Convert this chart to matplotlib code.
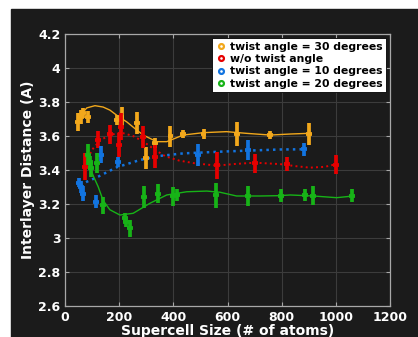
"""Interlayer distance vs supercell size, dark MATLAB-style figure."""

import matplotlib
matplotlib.use("Agg")
import matplotlib.pyplot as plt
from matplotlib.lines import Line2D
from matplotlib.patches import Rectangle

# ---- data ----
labels = ["twist angle = 30 degrees", "w/o twist angle",
          "twist angle = 10 degrees", "twist angle = 20 degrees"]
colors = ["#f2a81c", "#e60000", "#1274e0", "#17b317"]

x30 = [49, 58, 66, 85, 190, 208, 266, 298, 333, 389, 436, 511, 636, 756, 899]
y30 = [3.68, 3.713, 3.735, 3.71, 3.694, 3.711, 3.678, 3.47, 3.56, 3.597,
       3.611, 3.611, 3.609, 3.607, 3.611]
e30 = [0.054, 0.04, 0.03, 0.035, 0.03, 0.057, 0.064, 0.067, 0.03, 0.06,
       0.025, 0.03, 0.07, 0.023, 0.066]

x0 = [73, 122, 165, 197, 205, 286, 331, 562, 701, 818, 999]
y0 = [3.418, 3.578, 3.61, 3.546, 3.654, 3.592, 3.478, 3.428, 3.438, 3.434, 3.43]
e0 = [0.08, 0.05, 0.056, 0.07, 0.08, 0.064, 0.07, 0.08, 0.055, 0.04, 0.057]

x10 = [50, 58, 67, 113, 134, 196, 489, 676, 882]
y10 = [3.325, 3.30, 3.258, 3.213, 3.49, 3.444, 3.487, 3.517, 3.52]
e10 = [0.025, 0.035, 0.044, 0.04, 0.05, 0.03, 0.064, 0.06, 0.04]

x20 = [85, 91, 97, 118, 140, 220, 226, 239, 291, 342, 399, 414, 557, 676,
       797, 886, 917, 1061]
y20 = [3.49, 3.44, 3.41, 3.44, 3.19, 3.115, 3.095, 3.055, 3.24, 3.26, 3.245,
       3.252, 3.25, 3.245, 3.248, 3.25, 3.248, 3.248]
e20 = [0.064, 0.04, 0.05, 0.06, 0.052, 0.03, 0.03, 0.05, 0.064, 0.055, 0.056,
       0.035, 0.074, 0.06, 0.04, 0.035, 0.058, 0.04]

# smooth fit curves (knots)
cx30 = [60, 80, 110, 140, 165, 200, 227, 260, 288, 338, 375, 436, 510, 596,
        670, 757, 831, 898]
cy30 = [3.73, 3.765, 3.778, 3.77, 3.752, 3.71, 3.683, 3.64, 3.605, 3.566,
        3.566, 3.605, 3.619, 3.625, 3.615, 3.605, 3.611, 3.615]

cx0 = [75, 100, 130, 165, 205, 250, 290, 330, 370, 420, 473, 559, 630, 701,
       793, 850, 904, 960, 997]
cy0 = [3.44, 3.52, 3.575, 3.605, 3.62, 3.60, 3.565, 3.52, 3.48, 3.455, 3.44,
       3.425, 3.435, 3.442, 3.434, 3.422, 3.413, 3.418, 3.432]

cx10 = [55, 80, 122, 190, 276, 350, 436, 572, 670, 793, 880]
cy10 = [3.31, 3.33, 3.36, 3.415, 3.458, 3.482, 3.497, 3.507, 3.513, 3.52,
        3.521]

cx20 = [90, 105, 122, 140, 165, 202, 251, 313, 375, 449, 523, 572, 633, 720,
        793, 831, 917, 1003, 1064]
cy20 = [3.42, 3.36, 3.30, 3.22, 3.165, 3.134, 3.144, 3.203, 3.252, 3.271,
        3.275, 3.268, 3.246, 3.246, 3.248, 3.252, 3.246, 3.236, 3.246]

xticks = [0, 200, 400, 600, 800, 1000, 1200]
yticks = [2.6, 2.8, 3.0, 3.2, 3.4, 3.6, 3.8, 4.0, 4.2]
ytick_labels = ["2.6", "2.8", "3", "3.2", "3.4", "3.6", "3.8", "4", "4.2"]

BG = "#1b1b1b"
plt.rcParams["font.family"] = "DejaVu Sans"
plt.rcParams["font.weight"] = "bold"

fig = plt.figure(figsize=(4.18, 3.37), dpi=100, facecolor="white")
fig.patches.append(Rectangle((11 / 418, 0), 1, 1 - 9 / 337,
                             transform=fig.transFigure, color=BG,
                             zorder=-10))
ax = fig.add_axes([0.156, 0.093, 0.777, 0.806])
ax.set_zorder(1)
ax.set_facecolor(BG)

curves = [(cx30, cy30, "-", 1.0), (cx0, cy0, ":", 1.4),
          (cx10, cy10, ":", 1.8), (cx20, cy20, "-", 1.0)]
points = [(x30, y30, e30), (x0, y0, e0), (x10, y10, e10), (x20, y20, e20)]

for (cx, cy, ls, lw), (x, y, e), col in zip(curves, points, colors):
    ax.plot(cx, cy, ls, color=col, lw=lw, zorder=2)
    ax.errorbar(x, y, yerr=e, xerr=11, fmt="none", ecolor=col,
                elinewidth=2.7, capsize=0, zorder=3)

ax.set_xlim(0, 1200)
ax.set_ylim(2.6, 4.2)
ax.set_xticks(xticks)
ax.set_yticks(yticks)
ax.set_yticklabels(ytick_labels)
ax.grid(True, color="#3c3c3c", lw=0.8)
ax.set_axisbelow(True)
ax.tick_params(colors="#a8a8a8", labelcolor="white", labelsize=9,
               direction="in", length=3, top=True, right=True)
for s in ax.spines.values():
    s.set_color("#a8a8a8")
    s.set_linewidth(0.9)

ax.set_ylabel("Interlayer Distance (A)", color="white", fontsize=10,
              fontweight="bold", labelpad=2)
ax.set_xlabel("Supercell Size (# of atoms)", color="white", fontsize=10,
              fontweight="bold", labelpad=0)

handles = [Line2D([], [], ls="none", marker="o", ms=3.5, mfc="white",
                  mec=c, mew=1.6) for c in colors]
leg = ax.legend(handles, labels, loc="upper right", fontsize=7.8,
                frameon=True, fancybox=False, framealpha=1, borderpad=0.3,
                handlelength=0.9, handletextpad=0.4, labelspacing=0.22,
                borderaxespad=0.4)
leg.get_frame().set_facecolor("white")
leg.get_frame().set_edgecolor("black")
leg.get_frame().set_linewidth(0.6)
for t in leg.get_texts():
    t.set_fontweight("bold")

fig.savefig("out.png", dpi=100, facecolor=fig.get_facecolor())
